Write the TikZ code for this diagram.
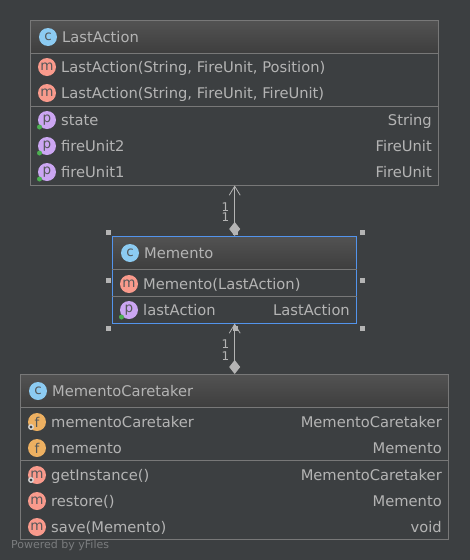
\documentclass[tikz,border=0pt]{standalone}
\usepackage{fontspec}
\setmainfont{DejaVu Sans}
\usetikzlibrary{arrows.meta}
\definecolor{bgc}{HTML}{3C3F41}
\definecolor{linec}{HTML}{787878}
\definecolor{txtc}{HTML}{B4B4B4}
\definecolor{selc}{HTML}{5394EC}
\definecolor{handc}{HTML}{B4B4B4}
\definecolor{hdtop}{HTML}{525252}
\definecolor{hdbot}{HTML}{3E3E3E}
\definecolor{cfill}{HTML}{8CCBF2}
\definecolor{mfill}{HTML}{F99A8C}
\definecolor{pfill}{HTML}{CBA6F2}
\definecolor{ffill}{HTML}{EDB061}
\definecolor{glyph}{HTML}{55585A}
\definecolor{visg}{HTML}{4CAF50}
\tikzset{x=1pt,y=-1pt,
 umlbox/.style={draw=linec,line width=1pt,fill=none,inner sep=0pt,minimum width=#1,rectangle},
 hdr/.style={rectangle,draw=none,inner sep=0pt,top color=hdtop,bottom color=hdbot},
 sepl/.style={draw=linec,line width=1pt},
 lbl/.style={text=txtc,font=\fontsize{14.7pt}{16pt}\selectfont,inner sep=0pt,anchor=base west},
 rlbl/.style={text=txtc,font=\fontsize{14.7pt}{16pt}\selectfont,inner sep=0pt,anchor=base east},
 title/.style={lbl},
 ic/.style={circle,inner sep=0pt,minimum size=18pt,text=glyph,font=\fontsize{13.5pt}{14pt}\selectfont},
 cicon/.style={ic,fill=cfill},
 micon/.style={ic,fill=mfill},
 picon/.style={ic,fill=pfill},
 ficon/.style={ic,fill=ffill},
 vis/.style={circle,fill=visg,inner sep=0pt,minimum size=5pt},
 stat/.style={circle,draw=white!85!black,line width=1.3pt,fill=bgc,inner sep=0pt,minimum size=4.5pt},
 handle/.style={rectangle,fill=handc,inner sep=0pt,minimum size=5pt},
 conn/.style={draw=txtc,line width=1pt,{Diamond[width=11pt,length=14pt,fill=txtc]}-{Straight Barb[length=9pt,width=11pt,line width=.8pt]}},
 mult/.style={text=txtc,font=\fontsize{12pt}{12pt}\selectfont,inner sep=0pt,anchor=base east},
 wm/.style={text=white!32!bgc,font=\fontsize{11pt}{12pt}\selectfont,inner sep=0pt,anchor=base west}
}
\begin{document}
\begin{tikzpicture}
\useasboundingbox (0,0) rectangle (470,560);
\fill[bgc] (0,0) rectangle (470,560);
% headers
\node[hdr,minimum width=408pt,minimum height=32pt] (h1) at (234.7,37) {};
\node[hdr,minimum width=244pt,minimum height=32pt] (h2) at (234.7,253) {};
\node[hdr,minimum width=428pt,minimum height=32pt] (h3) at (234.7,391) {};
% boxes
\node[umlbox=408.5pt,minimum height=164.5pt] (A) at (234.7,102.75) {};
\node[umlbox=244.5pt,minimum height=86.5pt,draw=selc] (B) at (234.7,279.75) {};
\node[umlbox=428.5pt,minimum height=164.5pt] (C) at (234.7,456.75) {};
% separators
\draw[sepl] (A.west |- 0,53.5) -- (A.east |- 0,53.5);
\draw[sepl] (A.west |- 0,106.5) -- (A.east |- 0,106.5);
\draw[sepl] (B.west |- 0,269.5) -- (B.east |- 0,269.5);
\draw[sepl] (B.west |- 0,296.5) -- (B.east |- 0,296.5);
\draw[sepl] (C.west |- 0,407.5) -- (C.east |- 0,407.5);
\draw[sepl] (C.west |- 0,460.5) -- (C.east |- 0,460.5);
% LastAction
\node[cicon] (i1) at (48,37) {c};
\node[title] (t1) at (62,42.7) {LastAction};
\node[micon] (i2) at (47,67) {m};
\node[lbl] (t2) at (61,72.7) {LastAction(String, FireUnit, Position)};
\node[micon] (i3) at (47,93) {m};
\node[lbl] (t3) at (61,98.7) {LastAction(String, FireUnit, FireUnit)};
\node[picon] (i4) at (47,120) {p};
\node[lbl] (t4) at (61,125.5) {state};
\node[rlbl] (r4) at (432,125.5) {String};
\node[vis] (v4) at (39.5,127) {};
\node[picon] (i5) at (47,146) {p};
\node[lbl] (t5) at (61,151.5) {fireUnit2};
\node[rlbl] (r5) at (432,151.5) {FireUnit};
\node[vis] (v5) at (39.5,153) {};
\node[picon] (i6) at (47,172) {p};
\node[lbl] (t6) at (61,177.5) {fireUnit1};
\node[rlbl] (r6) at (432,177.5) {FireUnit};
\node[vis] (v6) at (39.5,179) {};
% Memento
\node[cicon] (i7) at (130,253) {c};
\node[title] (t7) at (144,258.5) {Memento};
\node[micon] (i8) at (129,284) {m};
\node[lbl] (t8) at (143,289) {Memento(LastAction)};
\node[picon] (i9) at (129,310) {p};
\node[lbl] (t9) at (143,315.7) {lastAction};
\node[rlbl] (r9) at (350,315.7) {LastAction};
\node[vis] (v9) at (121.5,317) {};
% Caretaker
\node[cicon] (i10) at (38,391) {c};
\node[title] (t10) at (52,396.7) {MementoCaretaker};
\node[ficon] (i11) at (37,422) {f};
\node[lbl] (t11) at (51,427.3) {mementoCaretaker};
\node[rlbl] (r11) at (442,427.3) {MementoCaretaker};
\node[stat] (s11) at (31,427) {};
\node[ficon] (i12) at (37,448) {f};
\node[lbl] (t12) at (51,453.3) {memento};
\node[rlbl] (r12) at (442,453.3) {Memento};
\node[micon] (i13) at (37,475) {m};
\node[lbl] (t13) at (51,480.7) {getInstance()};
\node[rlbl] (r13) at (442,480.7) {MementoCaretaker};
\node[stat] (s13) at (31,480) {};
\node[micon] (i14) at (37,501) {m};
\node[lbl] (t14) at (51,506.3) {restore()};
\node[rlbl] (r14) at (442,506.3) {Memento};
\node[micon] (i15) at (37,527) {m};
\node[lbl] (t15) at (51,532.3) {save(Memento)};
\node[rlbl] (r15) at (442,532.3) {void};
% handles
\foreach \n/\px/\py in {a/108.5/232.5,b/235/232.5,c/362.5/232.5,d/108.5/280.5,e/362.5/280.5,f/108.5/328.5,g/235/328.5,k/362.5/328.5}
  \node[handle] (hd\n) at (\px,\py) {};
% connectors
\draw[conn] (B.north) -- (A.south);
\draw[conn] (C.north) -- (B.south);
\node[mult] (m1) at (229.5,211) {1};
\node[mult] (m2) at (229.5,221.5) {1};
\node[mult] (m3) at (229.5,348.5) {1};
\node[mult] (m4) at (229.5,360) {1};
\node[wm] (w) at (11,548) {Powered by yFiles};
\end{tikzpicture}
\end{document}
